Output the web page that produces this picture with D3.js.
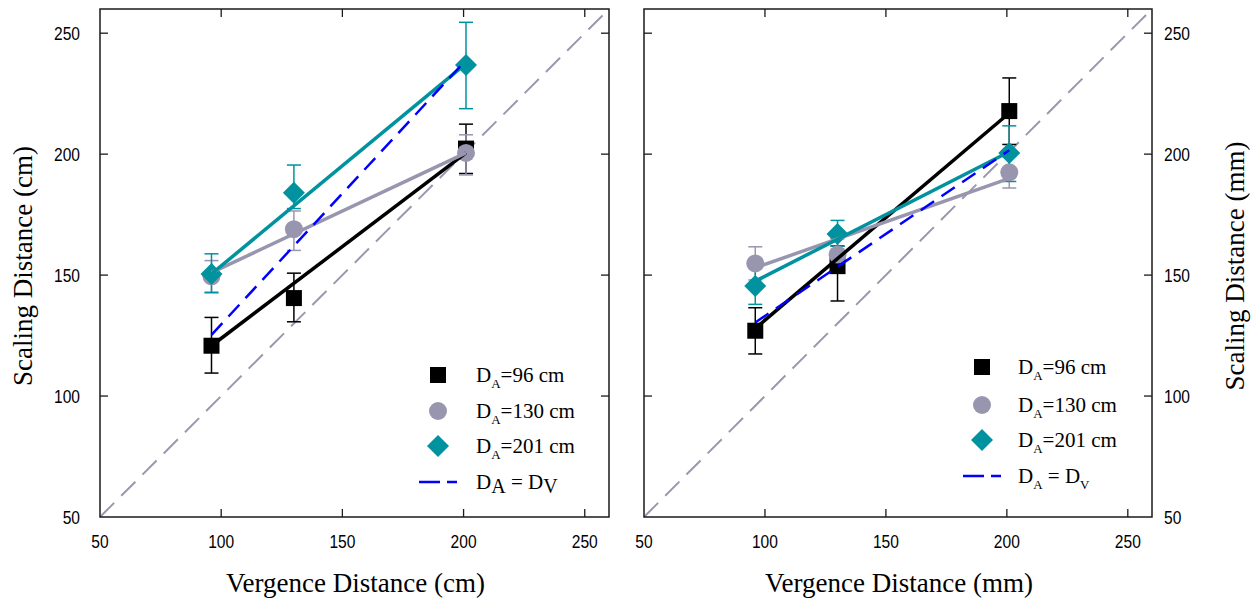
<!DOCTYPE html>
<html>
<head>
<meta charset="utf-8">
<script src="https://cdn.jsdelivr.net/npm/d3@7"></script>
<style>
  html, body { margin: 0; padding: 0; background: #fff; }
  svg { display: block; }
</style>
</head>
<body>
<div id="chart"></div>
<script>
// ==== Data ====
const vergence = [96, 130, 201];
const fitX = [96, 201];
const ticks = [50, 100, 150, 200, 250];

// left panel (cm)
const cmMean96  = [120.8, 140.5, 202.3];
const cmLo96    = [109.5, 130.7, 192.0];
const cmHi96    = [132.5, 150.8, 212.4];
const cmMean130 = [149.5, 169.0, 200.5];
const cmLo130   = [143.0, 160.2, 191.4];
const cmHi130   = [156.0, 176.5, 208.0];
const cmMean201 = [150.5, 184.0, 236.8];
const cmLo201   = [142.7, 177.5, 218.8];
const cmHi201   = [158.8, 195.5, 254.5];
const cmFit96   = [120.8, 200.5];
const cmFit130  = [151.0, 200.5];
const cmFit201  = [150.5, 237.4];
const cmFitDV   = [125.3, 238.9];

// right panel (mm)
const mmMean96  = [127.0, 153.7, 217.8];
const mmLo96    = [117.4, 139.3, 204.0];
const mmHi96    = [136.5, 162.0, 231.5];
const mmMean130 = [154.8, 158.5, 192.5];
const mmLo130   = [148.0, 152.0, 186.0];
const mmHi130   = [161.7, 165.0, 199.0];
const mmMean201 = [145.5, 167.0, 200.5];
const mmLo201   = [137.9, 161.9, 188.7];
const mmHi201   = [153.7, 172.6, 211.7];
const mmFit96   = [128.0, 217.0];
const mmFit130  = [153.0, 190.0];
const mmFit201  = [147.5, 201.0];
const mmFitDV   = [130.4, 201.6];

const legendLabels = ["=96 cm", "=130 cm", "=201 cm"];

const BLACK = "#000000", GREY = "#9896ae", TEAL = "#00929f", BLUE = "#0000ff", DIAG = "#9a98b0";

const svg = d3.select("#chart").append("svg")
  .attr("width", 1253).attr("height", 601);

function panel(opt) {
  const x = d3.scaleLinear().domain([50, 260]).range(opt.xr);
  const y = d3.scaleLinear().domain([50, 260]).range([517, 9]);
  const g = svg.append("g");

  const clip = "clip" + opt.id;
  svg.append("clipPath").attr("id", clip).append("rect")
    .attr("x", opt.xr[0]).attr("y", 9)
    .attr("width", opt.xr[1] - opt.xr[0]).attr("height", 508);

  const plot = g.append("g").attr("clip-path", `url(#${clip})`);

  // y = x diagonal
  plot.append("line")
    .attr("x1", x(50)).attr("y1", y(50)).attr("x2", x(260)).attr("y2", y(260))
    .attr("stroke", DIAG).attr("stroke-width", 2).attr("stroke-dasharray", "20,10");

  const series = [
    { color: BLACK, mean: opt.m96, lo: opt.l96, hi: opt.h96, fit: opt.f96, shape: "sq" },
    { color: GREY,  mean: opt.m130, lo: opt.l130, hi: opt.h130, fit: opt.f130, shape: "ci" },
    { color: TEAL,  mean: opt.m201, lo: opt.l201, hi: opt.h201, fit: opt.f201, shape: "di" }
  ];

  // error bars
  series.forEach(s => {
    const eb = plot.append("g").attr("stroke", s.color).attr("stroke-width", 1.5);
    vergence.forEach((v, i) => {
      eb.append("line").attr("x1", x(v)).attr("x2", x(v)).attr("y1", y(s.lo[i])).attr("y2", y(s.hi[i]));
      [s.lo[i], s.hi[i]].forEach(e => {
        eb.append("line").attr("x1", x(v) - 7).attr("x2", x(v) + 7).attr("y1", y(e)).attr("y2", y(e));
      });
    });
  });

  // markers
  series.forEach(s => {
    vergence.forEach((v, i) => drawMarker(plot, s.shape, x(v), y(s.mean[i]), s.color));
  });

  // fitted lines
  series.forEach(s => {
    plot.append("line")
      .attr("x1", x(fitX[0])).attr("y1", y(s.fit[0]))
      .attr("x2", x(fitX[1])).attr("y2", y(s.fit[1]))
      .attr("stroke", s.color).attr("stroke-width", 3.5);
  });
  plot.append("line")
    .attr("x1", x(fitX[0])).attr("y1", y(opt.fdv[0]))
    .attr("x2", x(fitX[1])).attr("y2", y(opt.fdv[1]))
    .attr("stroke", BLUE).attr("stroke-width", 2.5).attr("stroke-dasharray", "16,9");

  // frame + inward ticks
  g.append("rect")
    .attr("x", opt.xr[0]).attr("y", 9)
    .attr("width", opt.xr[1] - opt.xr[0]).attr("height", 508)
    .attr("fill", "none").attr("stroke", "#1a1a1a").attr("stroke-width", 1.5);

  const tk = g.append("g").attr("stroke", "#1a1a1a").attr("stroke-width", 1.3);
  ticks.slice(1).forEach(t => {
    tk.append("line").attr("x1", x(t)).attr("x2", x(t)).attr("y1", 517).attr("y2", 509);
    tk.append("line").attr("x1", x(t)).attr("x2", x(t)).attr("y1", 9).attr("y2", 17);
    tk.append("line").attr("x1", opt.xr[0]).attr("x2", opt.xr[0] + 8).attr("y1", y(t)).attr("y2", y(t));
    tk.append("line").attr("x1", opt.xr[1]).attr("x2", opt.xr[1] - 8).attr("y1", y(t)).attr("y2", y(t));
  });

  // tick labels (narrow, tall digits as in the original)
  const lab = g.append("g").attr("font-family", "Liberation Sans, Arial, sans-serif")
    .attr("font-size", 19).attr("fill", "#000");
  const put = (px, py, anchor, txt) =>
    lab.append("text").attr("transform", `translate(${px},${py}) scale(0.82,1)`)
      .attr("text-anchor", anchor).text(txt);
  ticks.forEach(t => {
    put(x(t), 548, "middle", t);
    if (opt.yLeft) put(opt.xr[0] - 20, y(t) + 7, "end", t);
    else put(opt.xr[1] + 12, y(t) + 7, "start", t);
  });

  // axis titles
  const serif = "Liberation Serif, Times New Roman, serif";
  g.append("text").attr("x", (opt.xr[0] + opt.xr[1]) / 2 + 1).attr("y", 592)
    .attr("text-anchor", "middle").attr("font-family", serif).attr("font-size", 27)
    .text(opt.xTitle);
  g.append("text")
    .attr("transform", `translate(${opt.yTitleX},266) rotate(-90)`)
    .attr("text-anchor", "middle").attr("font-family", serif).attr("font-size", 27)
    .text(opt.yTitle);

  // legend
  const lg = g.append("g").attr("font-family", serif);
  const shapes = ["sq", "ci", "di"], cols = [BLACK, GREY, TEAL];
  shapes.forEach((sh, i) => {
    const cy = opt.legY[i];
    drawMarker(lg, sh, opt.legMX, cy, cols[i]);
    const t = lg.append("text").attr("x", opt.legTX).attr("y", cy + 7).attr("font-size", 21);
    t.append("tspan").text("D");
    t.append("tspan").attr("font-size", 13).attr("dy", 6).text("A");
    t.append("tspan").attr("dy", -6).text(legendLabels[i]);
  });
  const ly = opt.legY[3];
  lg.append("line").attr("x1", opt.legMX - 19).attr("x2", opt.legMX + 19)
    .attr("y1", ly).attr("y2", ly)
    .attr("stroke", BLUE).attr("stroke-width", 2.5).attr("stroke-dasharray", "21,7,7,0");
  const t4 = lg.append("text").attr("x", opt.legTX).attr("y", ly + 7).attr("font-size", 21);
  t4.append("tspan").text("D");
  if (opt.bigSub) {
    t4.append("tspan").attr("font-size", 20).attr("dy", 4).text("A");
    t4.append("tspan").attr("dy", -4).text(" = D");
    t4.append("tspan").attr("font-size", 20).attr("dy", 4).text("V");
  } else {
    t4.append("tspan").attr("font-size", 13).attr("dy", 6).text("A");
    t4.append("tspan").attr("dy", -6).text(" = D");
    t4.append("tspan").attr("font-size", 13).attr("dy", 6).text("V");
  }
}

function drawMarker(sel, shape, cx, cy, color) {
  if (shape === "sq") {
    sel.append("rect").attr("x", cx - 8).attr("y", cy - 8).attr("width", 16).attr("height", 16).attr("fill", color);
  } else if (shape === "ci") {
    sel.append("circle").attr("cx", cx).attr("cy", cy).attr("r", 9).attr("fill", color);
  } else {
    sel.append("path")
      .attr("d", `M${cx},${cy - 11}L${cx + 11},${cy}L${cx},${cy + 11}L${cx - 11},${cy}Z`)
      .attr("fill", color);
  }
}

panel({
  id: "L", xr: [100, 609], yLeft: true,
  m96: cmMean96, l96: cmLo96, h96: cmHi96,
  m130: cmMean130, l130: cmLo130, h130: cmHi130,
  m201: cmMean201, l201: cmLo201, h201: cmHi201,
  f96: cmFit96, f130: cmFit130, f201: cmFit201, fdv: cmFitDV,
  xTitle: "Vergence Distance (cm)", yTitle: "Scaling Distance (cm)", yTitleX: 32,
  legMX: 438, legTX: 476, legY: [375, 411, 446, 482], bigSub: true
});

panel({
  id: "R", xr: [644, 1152], yLeft: false,
  m96: mmMean96, l96: mmLo96, h96: mmHi96,
  m130: mmMean130, l130: mmLo130, h130: mmHi130,
  m201: mmMean201, l201: mmLo201, h201: mmHi201,
  f96: mmFit96, f130: mmFit130, f201: mmFit201, fdv: mmFitDV,
  xTitle: "Vergence Distance (mm)", yTitle: "Scaling Distance (mm)", yTitleX: 1244,
  legMX: 982, legTX: 1018, legY: [367, 405, 440, 476], bigSub: false
});
</script>
</body>
</html>
